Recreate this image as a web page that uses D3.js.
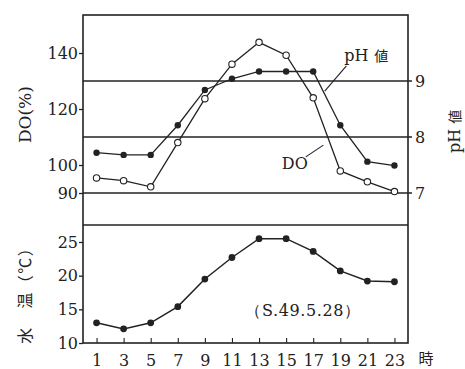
<!DOCTYPE html>
<html>
<head>
<meta charset="utf-8">
<script src="https://cdn.jsdelivr.net/npm/d3@7"></script>
<style>
  body { margin: 0; background: #fff; }
  text { font-family: "DejaVu Serif", serif; fill: #222; }
  .jp { font-family: "Noto Sans CJK JP", sans-serif; }
</style>
</head>
<body>
<div id="chart"></div>
<script>
// data
const hours = [1, 3, 5, 7, 9, 11, 13, 15, 17, 19, 21, 23];
const doValues = [95.4, 94.4, 92.2, 108, 123.7, 136, 143.8, 139.2, 124, 97.9, 94, 90.5];
const phValues = [7.72, 7.68, 7.68, 8.21, 8.84, 9.04, 9.17, 9.17, 9.17, 8.21, 7.56, 7.49];
const tempValues = [13.0, 12.1, 13.0, 15.4, 19.5, 22.7, 25.5, 25.5, 23.6, 20.7, 19.2, 19.1];
const doTicks = [90, 100, 120, 140];
const phTicks = [7, 8, 9];
const tempTicks = [10, 15, 20, 25];

const width = 465, height = 369;
const frameL = 83, frameR = 408, frameT = 15, frameMid = 225, frameB = 343;

const svg = d3.select("#chart").append("svg")
  .attr("width", width).attr("height", height);

const x = d3.scaleLinear().domain([0, 24]).range([frameL, frameR]);
const yDO = d3.scaleLinear().domain([90, 140]).range([193, 53]);
const yPH = d3.scaleLinear().domain([7, 9]).range([yDO(90), yDO(130)]);
const yT = d3.scaleLinear().domain([10, 25]).range([frameB, 242]);

const styleText = g => g.selectAll("text")
  .attr("font-size", 16).attr("font-family", "DejaVu Serif").attr("fill", "#222");

// frame
svg.append("rect")
  .attr("x", frameL).attr("y", frameT)
  .attr("width", frameR - frameL).attr("height", frameB - frameT)
  .attr("fill", "none").attr("stroke", "#222").attr("stroke-width", 1.6);
svg.append("line")
  .attr("x1", frameL).attr("x2", frameR).attr("y1", frameMid).attr("y2", frameMid)
  .attr("stroke", "#222").attr("stroke-width", 1.4);

// pH grid lines (right axis)
svg.append("g").selectAll("line").data(phTicks).join("line")
  .attr("x1", frameL).attr("x2", frameR + 4)
  .attr("y1", d => yPH(d)).attr("y2", d => yPH(d))
  .attr("stroke", "#222").attr("stroke-width", 1.3);

// left DO axis
svg.append("g")
  .attr("transform", `translate(${frameL},0)`)
  .call(d3.axisLeft(yDO).tickValues(doTicks).tickSize(4).tickPadding(1))
  .call(g => g.select(".domain").remove())
  .call(g => g.selectAll("line").attr("stroke", "#222").attr("stroke-width", 1.3))
  .call(styleText);

// right pH axis labels
svg.append("g")
  .attr("transform", `translate(${frameR},0)`)
  .call(d3.axisRight(yPH).tickValues(phTicks).tickFormat(d3.format("d")).tickSize(4).tickPadding(3))
  .call(g => g.select(".domain").remove())
  .call(g => g.selectAll("line").remove())
  .call(styleText);

// left temperature axis
svg.append("g")
  .attr("transform", `translate(${frameL},0)`)
  .call(d3.axisLeft(yT).tickValues(tempTicks).tickSize(4).tickPadding(1))
  .call(g => g.select(".domain").remove())
  .call(g => g.selectAll("line").attr("stroke", "#222").attr("stroke-width", 1.3))
  .call(styleText);

// bottom hour axis (ticks pointing inward)
svg.append("g")
  .attr("transform", `translate(0,${frameB})`)
  .call(d3.axisBottom(x).tickValues(hours).tickSize(-5).tickPadding(12))
  .call(g => g.select(".domain").remove())
  .call(g => g.selectAll("line").attr("stroke", "#222").attr("stroke-width", 1.1))
  .call(styleText);

svg.append("text").attr("class", "jp")
  .attr("x", x(23) + 24).attr("y", 364)
  .attr("font-size", 15).attr("text-anchor", "start")
  .text("時");

// series lines
const doLine = d3.line().x((d, i) => x(hours[i])).y(d => yDO(d));
const phLine = d3.line().x((d, i) => x(hours[i])).y(d => yPH(d));
const tLine = d3.line().x((d, i) => x(hours[i])).y(d => yT(d));

svg.append("path").datum(doValues).attr("d", doLine)
  .attr("fill", "none").attr("stroke", "#222").attr("stroke-width", 1.3);
svg.append("path").datum(phValues).attr("d", phLine)
  .attr("fill", "none").attr("stroke", "#222").attr("stroke-width", 1.3);
svg.append("path").datum(tempValues).attr("d", tLine)
  .attr("fill", "none").attr("stroke", "#222").attr("stroke-width", 1.5);

svg.append("g").selectAll("circle").data(phValues).join("circle")
  .attr("cx", (d, i) => x(hours[i])).attr("cy", d => yPH(d)).attr("r", 3.2)
  .attr("fill", "#222");
svg.append("g").selectAll("circle").data(doValues).join("circle")
  .attr("cx", (d, i) => x(hours[i])).attr("cy", d => yDO(d)).attr("r", 3.2)
  .attr("fill", "#fff").attr("stroke", "#222").attr("stroke-width", 1.1);
svg.append("g").selectAll("circle").data(tempValues).join("circle")
  .attr("cx", (d, i) => x(hours[i])).attr("cy", d => yT(d)).attr("r", 3.4)
  .attr("fill", "#222");

// annotations with leader lines
svg.append("line")
  .attr("x1", x(19.45)).attr("y1", yPH(9.27))
  .attr("x2", x(17.85)).attr("y2", yPH(8.82))
  .attr("stroke", "#222").attr("stroke-width", 1.1);
svg.append("text")
  .attr("x", x(19.3)).attr("y", yPH(9.36))
  .attr("font-size", 16).text("pH");
svg.append("text").attr("class", "jp")
  .attr("x", x(19.3) + 30).attr("y", yPH(9.36))
  .attr("font-size", 14).text("値");

svg.append("line")
  .attr("x1", x(16.45)).attr("y1", yDO(102.9))
  .attr("x2", x(17.75)).attr("y2", yDO(107.1))
  .attr("stroke", "#222").attr("stroke-width", 1.1);
svg.append("text")
  .attr("x", x(16.6)).attr("y", yDO(98.5))
  .attr("font-size", 16).attr("text-anchor", "end").text("DO");

svg.append("text")
  .attr("x", x(16.25)).attr("y", yT(14.0))
  .attr("font-size", 16).attr("text-anchor", "middle")
  .attr("letter-spacing", 0.6)
  .text("（S.49.5.28）");

// axis titles
svg.append("text")
  .attr("transform", `translate(31,${yDO(118)}) rotate(-90)`)
  .attr("font-size", 17).attr("text-anchor", "middle")
  .text("DO(%)");

svg.append("text")
  .attr("transform", `translate(460,${yPH(8.1)}) rotate(-90)`)
  .attr("text-anchor", "middle")
  .call(t => t.append("tspan").attr("font-size", 16).text("pH "))
  .call(t => t.append("tspan").attr("class", "jp").attr("font-size", 14).text("値"));

svg.append("text").attr("class", "jp")
  .attr("transform", `translate(31,${yT(17.7)}) rotate(-90)`)
  .attr("font-size", 16).attr("text-anchor", "middle")
  .attr("letter-spacing", 1.5)
  .text("水　温（℃）");
</script>
</body>
</html>
